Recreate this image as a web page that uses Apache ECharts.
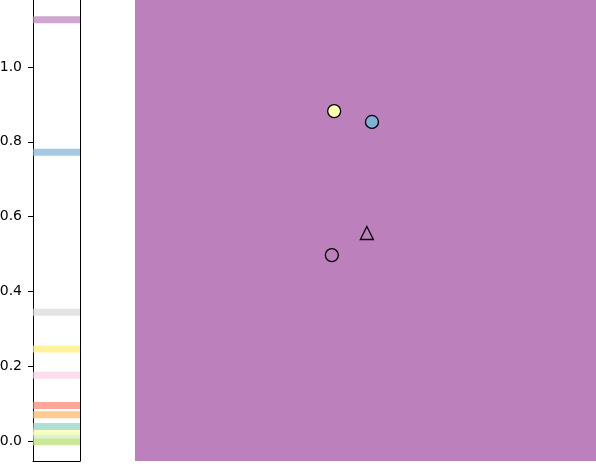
<!DOCTYPE html>
<html>
<head>
<meta charset="utf-8">
<script src="https://cdn.jsdelivr.net/npm/echarts@6/dist/echarts.min.js"></script>
<style>
  html, body { margin: 0; padding: 0; background: #fff; }
  #chart { width: 596px; height: 466px; }
</style>
</head>
<body>
<div id="chart"></div>
<script>
// left strip: one horizontal band per colour
const bandColors = ['#b3de69', '#ccebc5', '#ffffb3', '#8dd3c7', '#fdb462', '#fb8072',
                    '#fccde5', '#ffed6f', '#d9d9d9', '#80b1d3', '#bc80bd'];
const bandValues = [-0.002, 0.016, 0.025, 0.039, 0.070, 0.095,
                    0.176, 0.246, 0.344, 0.772, 1.126];
const tickValues = [0.0, 0.2, 0.4, 0.6, 0.8, 1.0];

// right panel points
const pointX = [0.432, 0.514, 0.503, 0.427];
const pointY = [0.882, 0.853, 0.556, 0.497];
const pointFill = ['#ffffb3', '#80b1d3', '#bc80bd', '#bc80bd'];
const pointShape = ['circle', 'circle', 'triangle', 'circle'];

const yMin = -0.0535;
const yMax = 1.179;

const chart = echarts.init(document.getElementById('chart'));

const bandSeries = bandValues.map((v, i) => ({
  type: 'line',
  xAxisIndex: 0,
  yAxisIndex: 0,
  data: [[0, v], [1, v]],
  showSymbol: false,
  symbol: 'none',
  lineStyle: { color: bandColors[i], width: 7, opacity: 0.7 },
  silent: true
}));

const blackLine = { show: true, onZero: false, lineStyle: { color: '#000', width: 1 } };

const option = {
  animation: false,
  backgroundColor: '#fff',
  grid: [
    { left: 33, width: 47, top: 0, bottom: 5, show: true, backgroundColor: '#fff',
      borderWidth: 0, outerBoundsMode: 'none', containLabel: false },
    { left: 135, right: 0, top: 0, bottom: 5, show: true, backgroundColor: '#bc80bd',
      borderWidth: 0, outerBoundsMode: 'none', containLabel: false }
  ],
  xAxis: [
    { gridIndex: 0, type: 'value', min: 0, max: 1, position: 'bottom',
      axisLine: blackLine, axisTick: { show: false }, axisLabel: { show: false },
      splitLine: { show: false } },
    { gridIndex: 1, type: 'value', min: 0, max: 1, show: false }
  ],
  yAxis: [
    {
      gridIndex: 0, type: 'value', min: yMin, max: yMax, position: 'left',
      axisLine: blackLine,
      axisTick: { show: true, length: 5, customValues: tickValues, lineStyle: { color: '#000' } },
      axisLabel: {
        customValues: tickValues, margin: 11, fontSize: 14, color: '#000',
        fontFamily: 'DejaVu Sans',
        formatter: v => v.toFixed(1)
      },
      splitLine: { show: false }
    },
    { gridIndex: 1, type: 'value', min: yMin, max: yMax, show: false },
    { gridIndex: 0, type: 'value', min: yMin, max: yMax, position: 'right',
      axisLine: blackLine, axisTick: { show: false }, axisLabel: { show: false },
      splitLine: { show: false } }
  ],
  series: bandSeries.concat([{
    type: 'scatter',
    xAxisIndex: 1,
    yAxisIndex: 1,
    symbolSize: 13,
    data: pointX.map((x, i) => ({
      value: [x, pointY[i]],
      symbol: pointShape[i],
      itemStyle: { color: pointFill[i], borderColor: '#000', borderWidth: 1.3, opacity: 1 }
    }))
  }])
};

chart.setOption(option);
</script>
</body>
</html>
